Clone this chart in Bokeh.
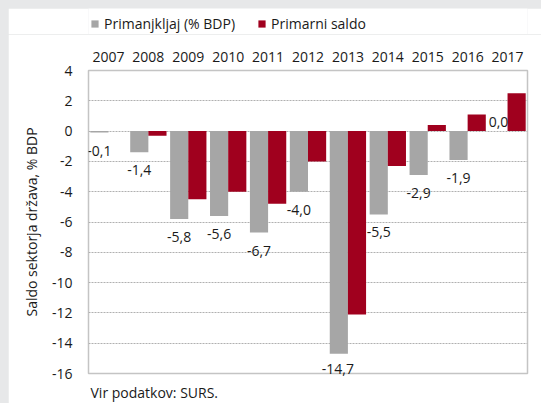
from bokeh.plotting import figure
from bokeh.layouts import column
from bokeh.models import (ColumnDataSource, Legend, LegendItem, LabelSet, Title, CategoricalAxis,
                          FactorRange, Range1d, FixedTicker, GlobalInlineStyleSheet)
from bokeh.core.properties import value
from bokeh.transform import dodge
from bokeh.embed import file_html
from bokeh.resources import INLINE

years = ["2007", "2008", "2009", "2010", "2011", "2012", "2013", "2014", "2015", "2016", "2017"]
primanjkljaj = [-0.1, -1.4, -5.8, -5.6, -6.7, -4.0, -14.7, -5.5, -2.9, -1.9, 0.0]
primarni_saldo = [0.0, -0.3, -4.5, -4.0, -4.8, -2.0, -12.1, -2.3, 0.4, 1.1, 2.5]
y_ticks = [4, 2, 0, -2, -4, -6, -8, -10, -12, -14, -16]
series_names = ["Primanjkljaj (% BDP)", "Primarni saldo"]

FONT = "Open Sans"
FS = "14px"
GRAY = "#a6a6a6"
RED = "#a0001e"
TXT = "#1a1a1a"
BAR_W = 0.455
SHIFT = BAR_W / 2
LAB_OFF = 18
W = 533
LEG_H = 26

labels = [f"{v:.1f}".replace(".", ",") for v in primanjkljaj]
offsets = [-LAB_OFF if v < 0 else 9 for v in primanjkljaj]
i_min = primanjkljaj.index(min(primanjkljaj))
labels_center = [("" if i == i_min else t) for i, t in enumerate(labels)]

src = ColumnDataSource(dict(year=years, prim=primanjkljaj, sal=primarni_saldo,
                            lab=labels_center, off=offsets))

# ---- legend strip (own small figure, legend inside its frame) ----
pl = figure(width=W, height=LEG_H, x_range=Range1d(0, 1), y_range=Range1d(0, 1),
            x_axis_location=None, y_axis_location=None, output_backend="svg",
            toolbar_location=None, min_border=0)
pl.outline_line_color = None
pl.grid.grid_line_color = None
pl.background_fill_color = "white"
pl.border_fill_color = "white"
# legend proxies, kept outside the visible range of this strip
lr1 = pl.vbar(x=[-1], top=[-1], width=0.1, fill_color=GRAY, line_color=None)
lr2 = pl.vbar(x=[-1], top=[-1], width=0.1, fill_color=RED, line_color=None)
legend = Legend(items=[LegendItem(label=series_names[0], renderers=[lr1]),
                       LegendItem(label=series_names[1], renderers=[lr2])],
                orientation="horizontal", location=(2, 1),
                glyph_width=9, glyph_height=9, label_standoff=5, spacing=22,
                label_height=14, padding=0, margin=0, border_line_color=None,
                background_fill_alpha=0, label_text_font=FONT, label_text_font_size=FS,
                label_text_color=TXT)
pl.add_layout(legend)
pl.stylesheets = [GlobalInlineStyleSheet(
    css="html, body {background:#e7e8e9 !important; overflow:hidden !important;} "
        "body {padding: 8px 0 0 8px !important;}")]

# ---- main chart ----
p = figure(width=W, height=395 - LEG_H, x_range=FactorRange(*years), y_range=Range1d(-16, 4),
           x_axis_location="above", output_backend="svg", toolbar_location=None,
           min_border_left=80, min_border_right=14, min_border_top=62 - LEG_H,
           min_border_bottom=30)
p.background_fill_color = "white"
p.border_fill_color = "white"
p.outline_line_color = "#c4c4c4"
p.outline_line_width = 1.5

r1 = p.vbar(x=dodge("year", -SHIFT, range=p.x_range), top="prim", width=BAR_W,
            source=src, fill_color=GRAY, line_color=None)
r2 = p.vbar(x=dodge("year", SHIFT, range=p.x_range), top="sal", width=BAR_W,
            source=src, fill_color=RED, line_color=None)

ls = LabelSet(x=dodge("year", -SHIFT, range=p.x_range), y="prim", text="lab",
              y_offset="off", source=src, text_align="center", text_baseline="middle",
              text_font=value(FONT), text_font_size=value(FS), text_color=TXT)
p.add_layout(ls)

xa = p.xaxis[0]
xa.axis_line_color = None
xa.major_tick_line_color = None
xa.minor_tick_line_color = None
xa.major_tick_out = 0
xa.major_label_text_font = FONT
xa.major_label_text_font_size = FS
xa.major_label_text_color = TXT
xa.major_label_standoff = 9

ya = p.yaxis[0]
ya.ticker = FixedTicker(ticks=y_ticks)
ya.major_label_overrides = {t: str(t) for t in y_ticks}
ya.axis_line_color = None
ya.major_tick_line_color = None
ya.minor_tick_line_color = None
ya.major_tick_out = 0
ya.major_label_standoff = 16
ya.major_label_text_font = FONT
ya.major_label_text_font_size = FS
ya.major_label_text_color = TXT
ya.axis_label = "Saldo sektorja država, % BDP"
ya.axis_label_text_font = FONT
ya.axis_label_text_font_size = FS
ya.axis_label_text_font_style = "normal"
ya.axis_label_text_color = TXT
ya.axis_label_standoff = 8

# lowest value label sits over the bottom edge of the frame (not clipped there):
# draw it as a label of an extra categorical axis with one slot per bar;
# the other slots get unique blank names
slots = []
k = 0
for i, y in enumerate(years):
    for s in ("g", "r"):
        k += 1
        slots.append(labels[i] if (i == i_min and s == "g") else " " * k)
p.extra_x_ranges = {"bars": FactorRange(*slots)}
min_axis = CategoricalAxis(x_range_name="bars",
                           axis_line_color=None, major_tick_line_color=None,
                           minor_tick_line_color=None, major_tick_out=0, major_tick_in=0,
                           major_label_standoff=-15,
                           major_label_text_font=FONT, major_label_text_font_size=FS,
                           major_label_text_color=TXT)
p.add_layout(min_axis, "below")

p.xgrid.grid_line_color = None
p.ygrid.ticker = FixedTicker(ticks=y_ticks)
p.ygrid.grid_line_color = "#b0b0b0"
p.ygrid.grid_line_dash = "2 1"
p.ygrid.grid_line_width = 1

src_title = Title(text="Vir podatkov: SURS.", align="left", offset=2, standoff=1,
                  vertical_align="bottom", text_font=FONT, text_font_size=FS,
                  text_font_style="normal", text_color=TXT)
p.add_layout(src_title, "below")

layout = column(pl, p, spacing=0)
open("out.html", "w").write(file_html(layout, INLINE))
